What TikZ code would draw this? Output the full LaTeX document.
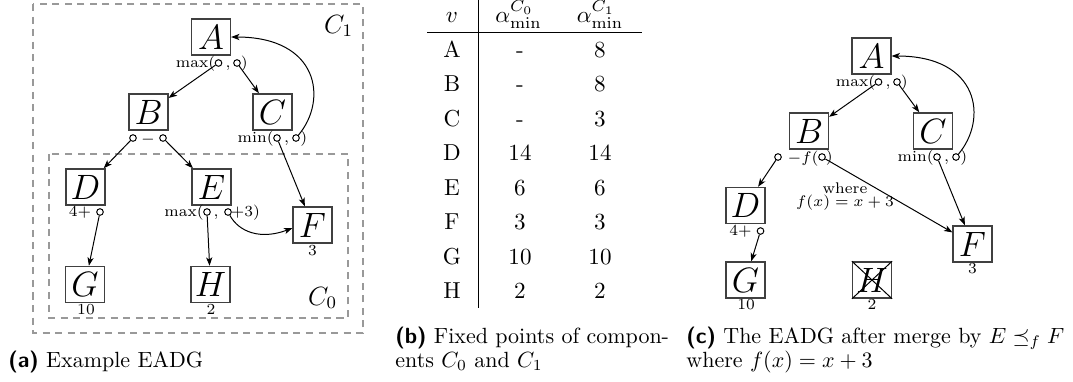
\RequirePackage{fix-cm}
\documentclass[tikz,border=0pt]{standalone}
\usetikzlibrary{arrows.meta}
\begin{document}
\begin{tikzpicture}[x=0.4545pt,y=-0.4545pt,
  box/.style={draw=black!75, line width=0.65pt, minimum width=17.6pt, minimum height=16.4pt, inner sep=0pt, font=\fontsize{16}{18}\selectfont},
  port/.style={circle, draw, line width=0.45pt, inner sep=0pt, minimum size=3pt},
  lab/.style={inner sep=0pt, font=\fontsize{7}{8}\selectfont},
  edge/.style={-{Stealth[length=3.8pt,width=2.8pt,inset=1pt]}, line width=0.45pt},
  comp/.style={draw=black!40, line width=0.5pt, dash pattern=on 3.2pt off 2.5pt},
  complab/.style={inner sep=0pt, font=\fontsize{12}{14}\selectfont},
  tabtext/.style={inner sep=0pt, font=\fontsize{10.5}{12}\selectfont},
  captext/.style={inner sep=0pt, font=\fontsize{10}{12}\selectfont}
]
\useasboundingbox (0,0) rectangle (1073,381);

% ---------------- panel (a) ----------------
\draw[comp] (33,4) rectangle (363,333);
\draw[comp] (49,154) rectangle (348,318);
\node[complab,anchor=base] (lC1) at (338.5,33) {$C_1$};
\node[complab,anchor=base] (lC0) at (322.5,305) {$C_0$};

\node[box] (A) at (211,37) {$A$};
\node[box] (B) at (148.5,112) {$B$};
\node[box] (C) at (272.5,112) {$C$};
\node[box] (D) at (85.5,187) {$D$};
\node[box] (E) at (211.5,187) {$E$};
\node[box] (F) at (312.5,225) {$F$};
\node[box] (G) at (85,284.5) {$G$};
\node[box] (H) at (210.5,284.5) {$H$};

\node[port] (a1) at (218.5,63) {};
\node[port] (a2) at (237,63) {};
\node[lab,anchor=mid east] (la1) at (215.6,63) {max(};
\node[lab,anchor=mid] (la2) at (228,63) {,};
\node[lab,anchor=mid west] (la3) at (240.5,63) {)};

\node[port] (b1) at (133,138) {};
\node[port] (b2) at (163,138) {};
\node[lab,anchor=mid] (lb1) at (148,138.5) {$-$};

\node[port] (c1) at (277,138) {};
\node[port] (c2) at (296,138) {};
\node[lab,anchor=mid east] (lc1) at (274.1,138) {min(};
\node[lab,anchor=mid] (lc2) at (286.5,138) {,};
\node[lab,anchor=mid west] (lc3) at (300,138) {)};

\node[port] (d1) at (100,212) {};
\node[lab,anchor=mid east] (ld1) at (91.5,212) {4+};

\node[port] (e1) at (207,212) {};
\node[port] (e2) at (228,212) {};
\node[lab,anchor=mid east] (le1) at (204.1,212) {max(};
\node[lab,anchor=mid] (le2) at (216,212) {,};
\node[lab,anchor=mid west] (le3) at (230.5,212) {+3)};

\node[lab,anchor=base] (nF) at (312.5,255) {3};
\node[lab,anchor=base] (nG) at (86,314) {10};
\node[lab,anchor=base] (nH) at (211,314) {2};

\draw[edge] (a1) -- (B);
\draw[edge] (a2) -- (C);
\draw[edge] (b1) -- (D);
\draw[edge] (b2) -- (E);
\draw[edge] (c1) -- (F);
\draw[edge] (d1) -- (G);
\draw[edge] (e1) -- (H);
\draw[edge] (e2) .. controls +(11,20) and +(-32,12) .. ([yshift=-1.4pt]F.west);
\draw[edge] (c2) .. controls +(32,-38) and +(88,0) .. (A.east);

\node[captext,anchor=base west] (capa) at (8,367.5) {{\sffamily\bfseries (a)} Example EADG};

% ---------------- panel (b) ----------------
\node[tabtext,anchor=base] (hv) at (452,22) {$v$};
\node[tabtext,anchor=base] (h0) at (518.5,22) {$\alpha^{C_0}_{\min}$};
\node[tabtext,anchor=base] (h1) at (600,22) {$\alpha^{C_1}_{\min}$};
\draw[line width=0.45pt] (427,32) -- (642,32);
\draw[line width=0.45pt] (478,-5) -- (478,308);
\foreach \v/\p/\q [count=\i] in {A/-/8, B/-/8, C/-/3, D/14/14, E/6/6, F/3/3, G/10/10, H/2/2} {
  \node[tabtext,anchor=base] (v\i) at (452,{57.3+(\i-1)*34.5}) {\v};
  \node[tabtext,anchor=base] (p\i) at (520,{57.3+(\i-1)*34.5}) {\p};
  \node[tabtext,anchor=base] (q\i) at (600,{57.3+(\i-1)*34.5}) {\q};
}
\node[captext,anchor=base west] (capb1) at (395,343.3) {{\sffamily\bfseries (b)} Fixed points of compon-};
\node[captext,anchor=base west] (capb2) at (395,367.5) {ents $C_0$ and $C_1$};

% ---------------- panel (c) ----------------
\node[box] (kA) at (871.5,56) {$A$};
\node[box] (kB) at (809,131) {$B$};
\node[box] (kC) at (933,131) {$C$};
\node[box] (kD) at (745.5,205.5) {$D$};
\node[box] (kF) at (972.5,244) {$F$};
\node[box] (kG) at (745.5,280) {$G$};
\node[box] (kH) at (872,280) {$H$};
\draw[line width=0.45pt] (kH.north west) -- (kH.south east) (kH.north east) -- (kH.south west);

\node[port] (ka1) at (878.5,82) {};
\node[port] (ka2) at (897,82) {};
\node[lab,anchor=mid east] (kla1) at (875.6,82) {max(};
\node[lab,anchor=mid] (kla2) at (888,82) {,};
\node[lab,anchor=mid west] (kla3) at (900.5,82) {)};

\node[port] (kb1) at (778,157) {};
\node[port] (kb2) at (822,157) {};
\node[lab,anchor=mid east] (klb1) at (819,157.5) {$-f($};
\node[lab,anchor=mid west] (klb2) at (825.3,157) {)};

\node[port] (kc1) at (937,157) {};
\node[port] (kc2) at (956,157) {};
\node[lab,anchor=mid east] (klc1) at (934.1,157) {min(};
\node[lab,anchor=mid] (klc2) at (946.5,157) {,};
\node[lab,anchor=mid west] (klc3) at (960,157) {)};

\node[port] (kd1) at (760.5,231) {};
\node[lab,anchor=mid east] (kld1) at (752,231) {4+};

\node[lab,anchor=base] (knF) at (972.5,273) {3};
\node[lab,anchor=base] (knG) at (746,309) {10};
\node[lab,anchor=base] (knH) at (872,309) {2};

\node[lab,anchor=base] (kw1) at (845,193.3) {where};
\node[lab,anchor=base] (kw2) at (845,206.7) {$f(x) = x + 3$};

\draw[edge] (ka1) -- (kB);
\draw[edge] (ka2) -- (kC);
\draw[edge] (kb1) -- (kD);
\draw[edge] (kb2) -- (kF);
\draw[edge] (kc1) -- (kF);
\draw[edge] (kd1) -- (kG);
\draw[edge] (kc2) .. controls +(32,-38) and +(88,0) .. (kA.east);

\node[captext,anchor=base west] (capc1) at (686,343.3) {{\sffamily\bfseries (c)} The EADG after merge by $E \preceq_f F$};
\node[captext,anchor=base west] (capc2) at (686,367.5) {where $f(x) = x + 3$};
\end{tikzpicture}
\end{document}
